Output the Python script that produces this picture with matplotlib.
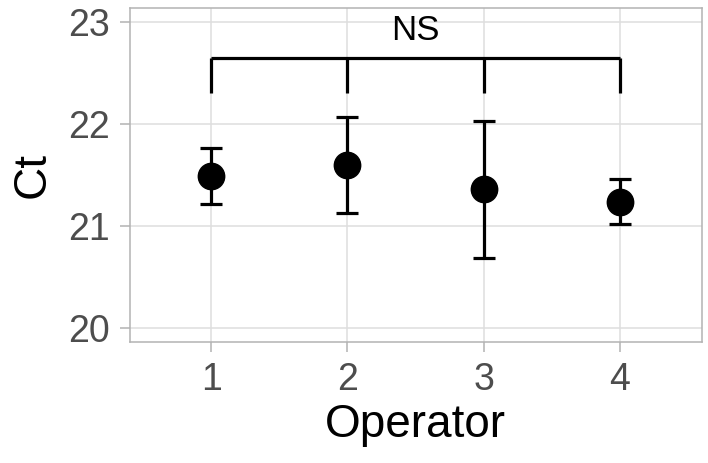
import numpy as np
import matplotlib.pyplot as plt

plt.rcParams['font.family'] = ['Liberation Sans', 'DejaVu Sans']

# Data
operators = [1, 2, 3, 4]
ct_mean = [21.49, 21.60, 21.36, 21.24]
ct_low = [21.22, 21.13, 20.69, 21.02]
ct_high = [21.76, 22.065, 22.03, 21.46]
yticks = [20, 21, 22, 23]

# significance bracket
bracket_top = 22.64
bracket_tip = 22.30
sig_label = 'NS'

mean = np.array(ct_mean)
err = [mean - np.array(ct_low), np.array(ct_high) - mean]

fig = plt.figure(figsize=(7.08, 4.63), dpi=100)
ax = fig.add_axes([0.183, 0.261, 0.808, 0.722])

ax.errorbar(operators, ct_mean, yerr=err, fmt='o', color='black',
            markersize=19, elinewidth=2.3, capsize=7.6, capthick=2.3, zorder=3)

# bracket
ax.plot([operators[0], operators[-1]], [bracket_top, bracket_top],
        color='black', lw=2.3, solid_capstyle='butt', zorder=3)
for x in operators:
    ax.plot([x, x], [bracket_tip, bracket_top], color='black', lw=2.3,
            solid_capstyle='butt', zorder=3)
ax.text(np.mean(operators), 22.915, sig_label, ha='center', va='center',
        fontsize=25, color='black')

ax.set_xlim(0.4, 4.6)
ax.set_ylim(19.866, 23.134)
ax.set_xticks(operators)
ax.set_yticks(yticks)

ax.grid(True, color='#DEDEDE', lw=1.1)
ax.set_axisbelow(True)
for s in ax.spines.values():
    s.set_color('#B3B3B3')
    s.set_linewidth(1.1)
ax.tick_params(colors='#B3B3B3', labelcolor='#4D4D4D', labelsize=27,
               length=7, width=1.1, pad=7)

ax.set_xlabel('Operator', fontsize=33, color='black', labelpad=4)
ax.set_ylabel('Ct', fontsize=33, color='black', labelpad=10)

fig.savefig('out.png', dpi=100)
